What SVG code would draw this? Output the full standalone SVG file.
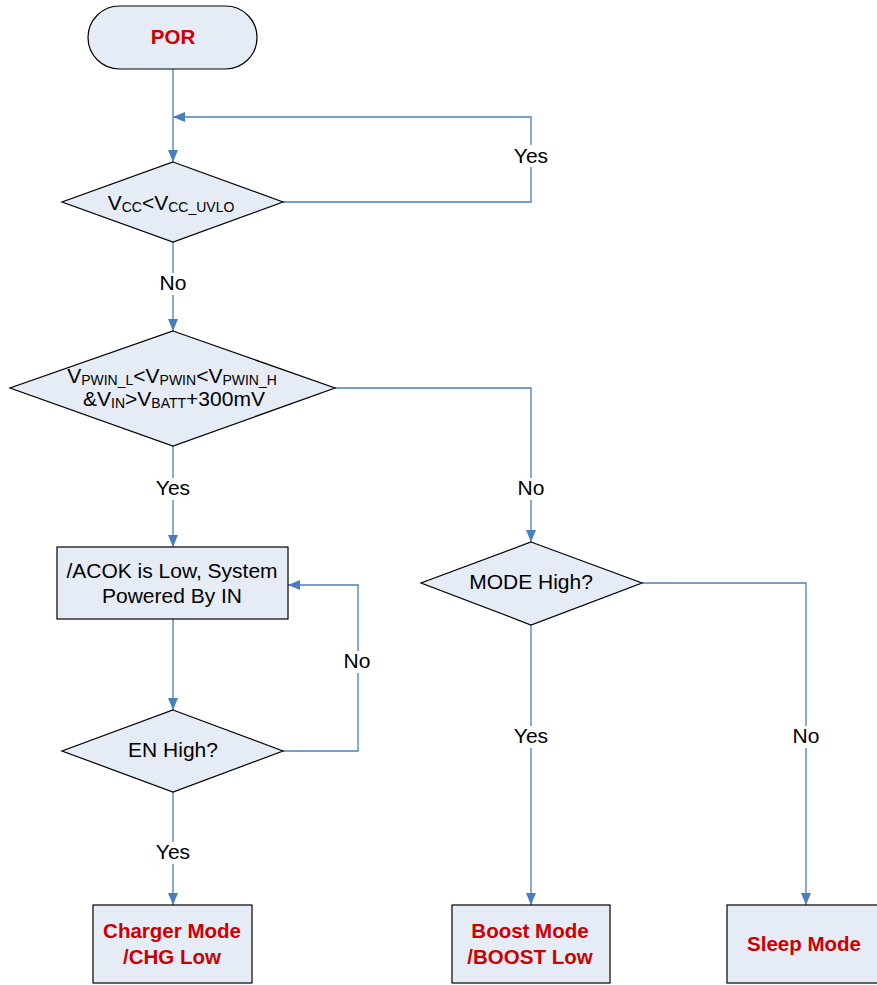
<svg xmlns="http://www.w3.org/2000/svg" width="877" height="985" viewBox="0 0 877 985">
<defs>
<marker id="arr" viewBox="0 0 12 10" refX="12" refY="5" markerWidth="12" markerHeight="10" markerUnits="userSpaceOnUse" orient="auto">
<path d="M0,0 L12,5 L0,10 z" fill="#4a7ebb"/>
</marker>
<style>
.shape{fill:#e6ecf6;stroke:#000;stroke-width:1.2}
.con{fill:none;stroke:#4a7ebb;stroke-width:1.3}
.t{font-family:"Liberation Sans",Arial,sans-serif;font-size:21px;fill:#000;text-anchor:middle}
.r{font-family:"Liberation Sans",Arial,sans-serif;font-size:20.5px;font-weight:bold;fill:#cc0000;text-anchor:middle}
.s{font-size:14px}
.lbg{fill:#fff}
</style>
</defs>
<rect width="877" height="985" fill="#fff"/>
<g id="connectors">
<path class="con" d="M173,69 V162" marker-end="url(#arr)"/>
<path class="con" d="M283,202 H531 V117 H173" marker-end="url(#arr)"/>
<path class="con" d="M173,242 V331" marker-end="url(#arr)"/>
<path class="con" d="M173,446 V547" marker-end="url(#arr)"/>
<path class="con" d="M335,388 H531 V542" marker-end="url(#arr)"/>
<path class="con" d="M173,619 V710" marker-end="url(#arr)"/>
<path class="con" d="M283,751 H358 V585 H288" marker-end="url(#arr)"/>
<path class="con" d="M173,792 V905" marker-end="url(#arr)"/>
<path class="con" d="M531,625 V905" marker-end="url(#arr)"/>
<path class="con" d="M642,583 H806 V905" marker-end="url(#arr)"/>
<rect class="lbg" x="511" y="145" width="40" height="22"/>
<text class="t" x="531" y="163">Yes</text>
<rect class="lbg" x="157" y="273" width="32" height="22"/>
<text class="t" x="173" y="290">No</text>
<rect class="lbg" x="153" y="478" width="40" height="22"/>
<text class="t" x="173" y="495">Yes</text>
<rect class="lbg" x="515" y="478" width="32" height="22"/>
<text class="t" x="531" y="495">No</text>
<rect class="lbg" x="341" y="651" width="32" height="22"/>
<text class="t" x="357" y="668">No</text>
<rect class="lbg" x="511" y="726" width="40" height="22"/>
<text class="t" x="531" y="743">Yes</text>
<rect class="lbg" x="790" y="726" width="32" height="22"/>
<text class="t" x="806" y="743">No</text>
<rect class="lbg" x="153" y="842" width="40" height="22"/>
<text class="t" x="173" y="859">Yes</text>
</g>
<g id="por">
<rect class="shape" x="88" y="6" width="169" height="63" rx="31.5" ry="31.5"/>
<text class="r" x="173" y="44">POR</text>
</g>
<g id="vcc">
<polygon class="shape" points="173,162 283,202 173,242 62,202"/>
<text class="t" x="171" y="210">V<tspan class="s" dy="2">CC</tspan><tspan dy="-2">&lt;V</tspan><tspan class="s" dy="2">CC_UVLO</tspan></text>
</g>
<g id="pwin">
<polygon class="shape" points="173,331 335,388 173,446 10,388"/>
<text class="t" x="172" y="383">V<tspan class="s" dy="2">PWIN_L</tspan><tspan dy="-2">&lt;V</tspan><tspan class="s" dy="2">PWIN</tspan><tspan dy="-2">&lt;V</tspan><tspan class="s" dy="2">PWIN_H</tspan></text>
<text class="t" x="174" y="406">&amp;V<tspan class="s" dy="2">IN</tspan><tspan dy="-2">&gt;V</tspan><tspan class="s" dy="2">BATT</tspan><tspan dy="-2">+300mV</tspan></text>
</g>
<g id="acok">
<rect class="shape" x="57" y="547" width="231" height="72"/>
<text class="t" x="172" y="578">/ACOK is Low, System</text>
<text class="t" x="172" y="603">Powered By IN</text>
</g>
<g id="en">
<polygon class="shape" points="173,710 283,751 173,792 62,751"/>
<text class="t" x="173" y="757">EN High?</text>
</g>
<g id="mode">
<polygon class="shape" points="531,542 642,583 531,625 421,583"/>
<text class="t" x="531" y="589">MODE High?</text>
</g>
<g id="charger">
<rect class="shape" x="93" y="905" width="159" height="78"/>
<text class="r" x="172" y="938">Charger Mode</text>
<text class="r" x="172" y="964">/CHG Low</text>
</g>
<g id="boost">
<rect class="shape" x="452" y="905" width="158" height="78"/>
<text class="r" x="530" y="938">Boost Mode</text>
<text class="r" x="530" y="964">/BOOST Low</text>
</g>
<g id="sleep">
<rect class="shape" x="727" y="905" width="160" height="78"/>
<text class="r" x="804" y="951">Sleep Mode</text>
</g>
</svg>
